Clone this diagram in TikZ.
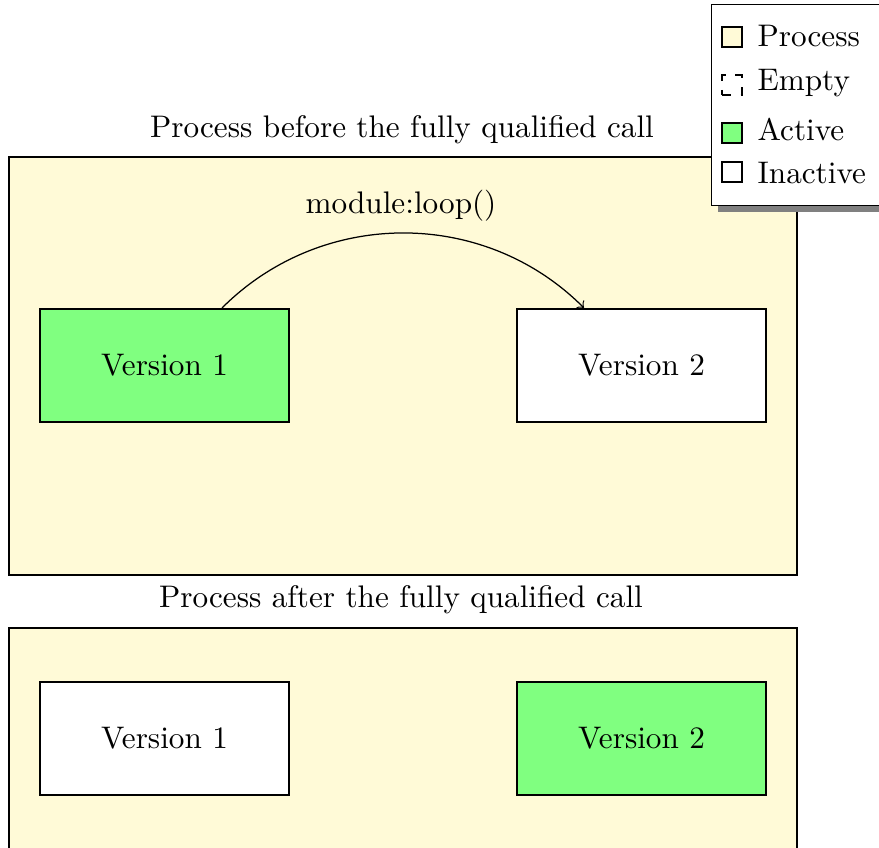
\documentclass[tikz,border=0pt]{standalone}
\usetikzlibrary{shadows,calc}
\definecolor{procfill}{RGB}{255,250,215}
\definecolor{activefill}{RGB}{128,255,128}
\def\pxu{0.3205pt}
\begin{document}
\begin{tikzpicture}[x=0.3205pt,y=0.3205pt,
  procbox/.style={draw=black,line width=0.7pt,fill=procfill,inner sep=0pt},
  verbox/.style={draw=black,line width=0.7pt,inner sep=0pt,minimum width=249*\pxu,minimum height=113*\pxu},
  activebox/.style={verbox,fill=activefill},
  inactivebox/.style={verbox,fill=white},
  title/.style={inner sep=0pt,anchor=base},
  legsq/.style={draw=black,line width=0.7pt,inner sep=0pt,minimum size=20*\pxu},
  leglab/.style={inner sep=0pt,anchor=base west}]
\useasboundingbox (0,0) rectangle (879,-847);
\fill[white] (0,0) rectangle (879,-847);

% top process
\node[procbox,minimum width=788*\pxu,minimum height=418*\pxu] (top) at (403,-366) {};
\node[title] (toptitle) at (402,-137.3) {Process before the fully qualified call};
\node[activebox] (v1a) at (164.5,-365.5) {Version 1};
\node[inactivebox] (v2a) at (641.5,-365.5) {Version 2};
\draw[->,line width=0.4pt] (v1a) to[bend left=45] (v2a);
\node[title] (call) at (401,-213) {module:loop()};

% bottom process
\node[procbox,minimum width=788*\pxu,minimum height=418*\pxu] (bot) at (403,-837) {};
\node[title] (bottitle) at (401,-607.3) {Process after the fully qualified call};
\node[inactivebox] (v1b) at (164.5,-738.5) {Version 1};
\node[activebox] (v2b) at (641.5,-738.5) {Version 2};

% legend
\node[draw=black,line width=0.45pt,fill=white,
  drop shadow={fill=black!50,opacity=1},inner sep=0pt,
  minimum width=190*\pxu,minimum height=201.5*\pxu,anchor=north west] (legend) at (711,-3.5) {};
\node[legsq,fill=procfill] (sqp) at (732,-36.7) {};
\node[legsq,dashed] (sqe) at (732,-85) {};
\node[legsq,fill=activefill] (sqa) at (732,-133) {};
\node[legsq,fill=white] (sqi) at (732,-172) {};
\node[leglab] (lp) at (757,-46.7) {Process};
\node[leglab] (le) at (757,-90) {Empty};
\node[leglab] (la) at (757,-140) {Active};
\node[leglab] (li) at (757,-183.3) {Inactive};
\end{tikzpicture}
\end{document}
